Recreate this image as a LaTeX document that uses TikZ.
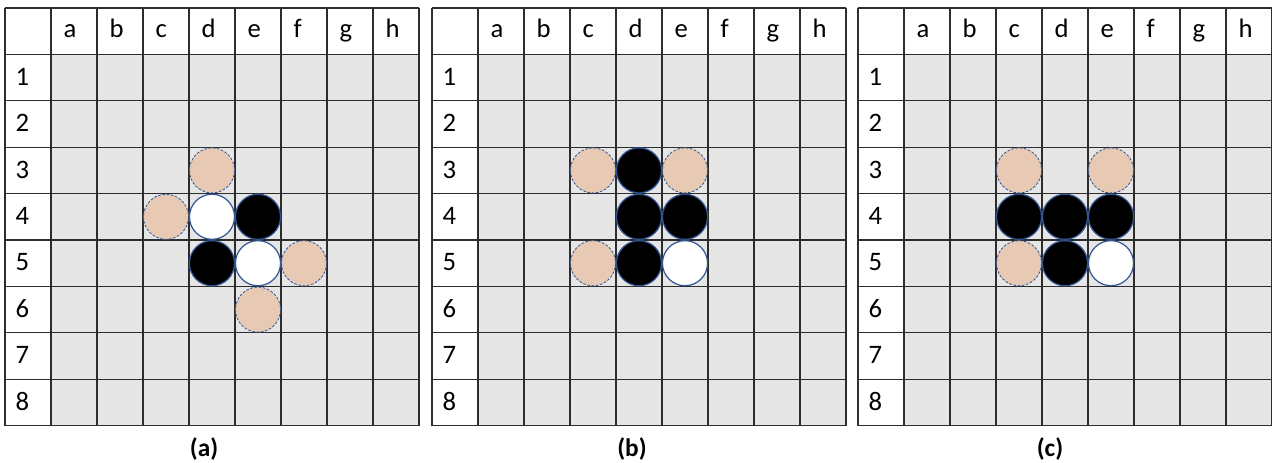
\documentclass[tikz,border=0pt]{standalone}
\usepackage{fontspec}
\setmainfont{Carlito}

\definecolor{cellgray}{RGB}{230,230,230}
\definecolor{gridgray}{RGB}{45,45,45}
\definecolor{rimblue}{RGB}{47,85,151}
\definecolor{tan}{RGB}{232,202,180}

\tikzset{every picture/.style={line width=0.75pt}}
\tikzset{
  gridline/.style={draw=gridgray,line width=1pt},
  celltext/.style={anchor=base west,inner sep=0pt,font=\fontsize{20}{24}\selectfont},
  caption/.style={inner sep=0pt,font=\bfseries\fontsize{19}{23}\selectfont},
  blackstone/.style={fill=black,draw=rimblue,line width=0.9pt},
  whitestone/.style={fill=white,draw=rimblue,line width=0.9pt},
  movestone/.style={fill=tan,draw=rimblue,line width=0.6pt,dash pattern={on 2pt off 1.2pt}},
}

% one board: #1 = name prefix of its nodes
\newcommand{\othelloboard}[1]{%
  \fill[white] (0,0) rectangle (414,417.6);
  \fill[cellgray] (46,46.4) rectangle (414,417.6);
  \foreach \i in {0,...,9} {
    \draw[gridline] (\i*46,0) -- (\i*46,417.6);
    \draw[gridline] (0,\i*46.4) -- (414,\i*46.4);
  }
  \foreach \c [count=\i] in {a,...,h}
    \node[celltext] (#1-col-\c) at (\i*46+12,29.5) {\c};
  \foreach \r in {1,...,8}
    \node[celltext] (#1-row-\r) at (10,\r*46.4+31) {\r};
}
% stone: #1 = style, #2 = column (a=1), #3 = row
\newcommand{\stone}[3]{\path[#1] ({(#2+0.5)*46},{(#3+0.5)*46.4}) circle[radius=16.9pt];}

\begin{document}
\begin{tikzpicture}[x=0.75pt,y=0.75pt,yscale=-1,xscale=1]
\fill[white] (0,0) rectangle (1272,463);
\useasboundingbox (0,0) rectangle (1272,463);

%Board (a)
\begin{scope}[shift={(5,8)}]
\othelloboard{ba}
\stone{movestone}{4}{3}
\stone{movestone}{3}{4}
\stone{whitestone}{4}{4}
\stone{blackstone}{5}{4}
\stone{blackstone}{4}{5}
\stone{whitestone}{5}{5}
\stone{movestone}{6}{5}
\stone{movestone}{5}{6}
\end{scope}

%Board (b)
\begin{scope}[shift={(432,8)}]
\othelloboard{bb}
\stone{movestone}{3}{3}
\stone{blackstone}{4}{3}
\stone{movestone}{5}{3}
\stone{blackstone}{4}{4}
\stone{blackstone}{5}{4}
\stone{movestone}{3}{5}
\stone{blackstone}{4}{5}
\stone{whitestone}{5}{5}
\end{scope}

%Board (c)
\begin{scope}[shift={(858,8)}]
\othelloboard{bc}
\stone{movestone}{3}{3}
\stone{movestone}{5}{3}
\stone{blackstone}{3}{4}
\stone{blackstone}{4}{4}
\stone{blackstone}{5}{4}
\stone{movestone}{3}{5}
\stone{blackstone}{4}{5}
\stone{whitestone}{5}{5}
\end{scope}

% Text Node
\node[caption] (cap-a) at (204,449) {(a)};
% Text Node
\node[caption] (cap-b) at (632,449) {(b)};
% Text Node
\node[caption] (cap-c) at (1050,449) {(c)};

\end{tikzpicture}
\end{document}
